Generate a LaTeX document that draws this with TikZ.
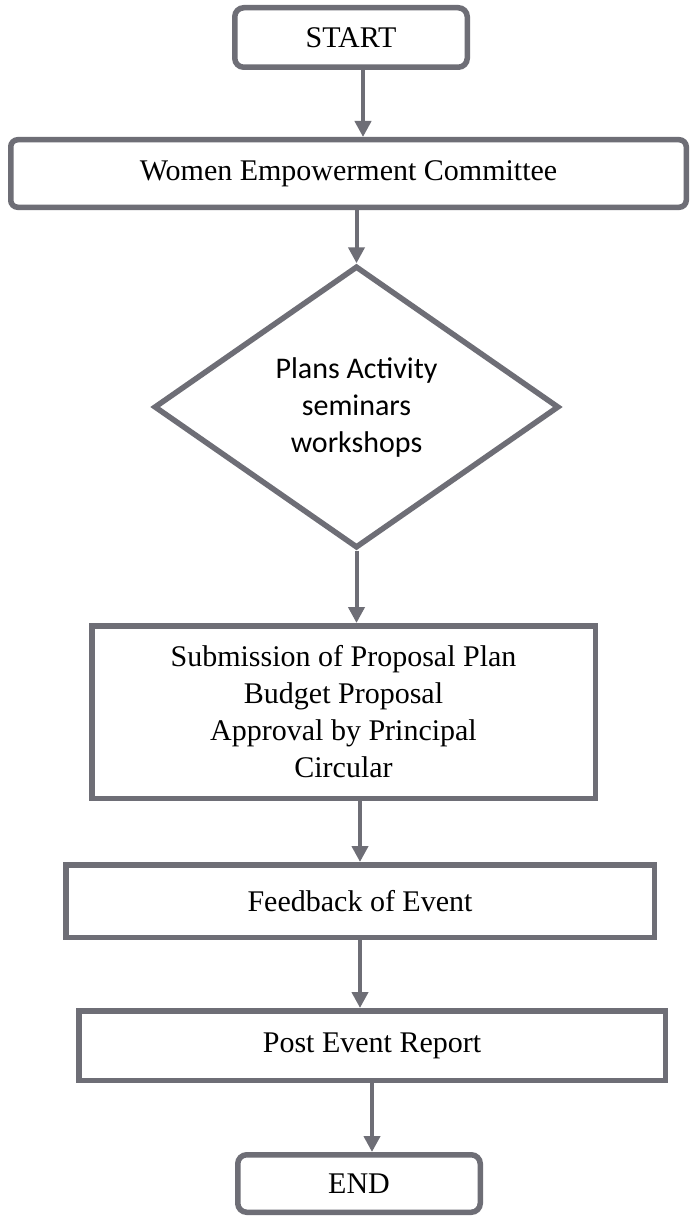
\documentclass[tikz,border=0pt]{standalone}
\usepackage{fontspec}
\setmainfont{Liberation Serif}
\newfontfamily\diafont{Carlito}
\usepackage{xcolor}
\usetikzlibrary{positioning,shapes.geometric,arrows.meta}
\definecolor{linegray}{RGB}{110,110,118}

\begin{document}
\begin{tikzpicture}[
	x=1pt, y=-1pt,
	font=\fontsize{30}{37}\selectfont,
	% Style cho START / END (bo góc)
	term_box/.style={draw=linegray, line width=5.5pt, rounded corners=9pt,
		fill=white, inner sep=0pt},
	% Style cho hộp bước (góc vuông)
	proc_box/.style={draw=linegray, line width=5.5pt, fill=white,
		inner sep=0pt, align=center},
	% Style cho hình thoi
	decide_box/.style={diamond, draw=linegray, line width=5.5pt, fill=white,
		inner sep=0pt, aspect=1.43, align=center,
		font=\diafont\fontsize{30}{37}\selectfont},
	% Style cho mũi tên nối
	flow_arrow/.style={
		-{Triangle[length=16pt,width=16pt]},
		draw=linegray, line width=4pt
	}
	]
	
	% ================= Khung trang =================
	\fill[white] (0, 0) rectangle (691, 1217);
	\useasboundingbox (0, 0) rectangle (691, 1217);
	
	% ================= Các hộp =================
	\node[term_box, minimum width=232.5pt, minimum height=59.5pt] (start) at (351, 37.5) {START};
	
	\node[proc_box, rounded corners=7pt, minimum width=675.5pt, minimum height=67.5pt]
		(wec) at (348.5, 173.5) {Women Empowerment Committee};
	
	\node[decide_box, minimum width=405pt, minimum height=282pt]
		(plans) at (356.5, 407) {Plans Activity\\seminars\\workshops};
	
	\node[proc_box, minimum width=503.5pt, minimum height=172.5pt] (submit) at (343.5, 712)
		{Submission of Proposal Plan\\Budget Proposal\\Approval by Principal\\Circular};
	
	\node[proc_box, minimum width=588.5pt, minimum height=72.5pt] (feedback) at (360, 901)
		{Feedback of Event};
	
	\node[proc_box, minimum width=586.5pt, minimum height=69.5pt] (report) at (372, 1045.5)
		{Post Event Report};
	
	\node[term_box, minimum width=242.5pt, minimum height=57.5pt] (finish) at (359, 1183.5) {END};
	
	% ================= Mũi tên =================
	\draw[flow_arrow] ([xshift=12pt]start.south) -- ([xshift=12pt]start.south |- wec.north);
	\draw[flow_arrow] (wec.south -| plans.north) -- (plans.north);
	\draw[flow_arrow] (plans.south) -- (plans.south |- submit.north);
	\draw[flow_arrow] (submit.south -| feedback.north) -- (feedback.north);
	\draw[flow_arrow] (feedback.south) -- (feedback.south |- report.north);
	\draw[flow_arrow] (report.south) -- (report.south |- finish.north);
	
\end{tikzpicture}
\end{document}
